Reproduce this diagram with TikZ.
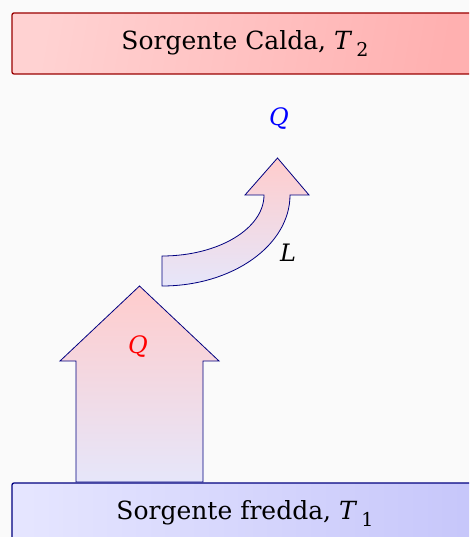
\documentclass[tikz,border=0pt]{standalone}
\usepackage{fontspec}
\setmainfont{DejaVu Serif}
\definecolor{bg}{HTML}{FAFAFA}
\definecolor{hotL}{HTML}{FFD2D2}
\definecolor{hotR}{HTML}{FFB0B0}
\definecolor{hotB}{HTML}{9A0000}
\definecolor{coldL}{HTML}{E6E6FF}
\definecolor{coldR}{HTML}{C6C6FA}
\definecolor{navyc}{HTML}{000080}
\definecolor{pinkt}{HTML}{FFCCCC}
\definecolor{lavb}{HTML}{E6E6FA}
\newcommand{\Tsub}[1]{\textit{T}\,\raisebox{-0.28em}{\fontsize{19}{22}\selectfont #1}}
\tikzset{
  source/.style={rectangle, rounded corners=2pt, line width=1.3pt, minimum width=466pt, minimum height=61pt, inner sep=0pt, font=\fontsize{25}{30}\selectfont},
  hotbox/.style={source, draw=hotB, left color=hotL, right color=hotR, shading angle=80},
  coldbox/.style={source, draw=navyc, left color=coldL, right color=coldR},
  flow/.style={draw=navyc, line width=0.8pt, top color=pinkt, bottom color=lavb},
  lbl/.style={inner sep=0pt, font=\fontsize{24}{28}\selectfont\itshape}
}
\begin{document}
\begin{tikzpicture}[x=1pt, y=-1pt]
\useasboundingbox (0,0) rectangle (469,537);
\fill[bg] (0,0) rectangle (469,537);
\begin{scope}
\clip (0,0) rectangle (469,537);
\node[hotbox] (hot) at (245,43.5) {Sorgente Calda, \Tsub{2}};
\node[coldbox] (cold) at (245,513.5) {Sorgente fredda, \Tsub{1}};
\end{scope}
% big arrow
\path[flow] (76,482) -- (76,361) -- (60,361) -- (139.5,286) -- (219,361) -- (203,361) -- (203,482) -- cycle;
% curved arrow
\path[flow] (162,286) .. controls (232.7,286) and (290,245.2) .. (290,195)
  -- (309,195) -- (277.5,158) -- (245,195) -- (264,195)
  .. controls (264,228.7) and (218.3,256) .. (162,256) -- cycle;
\node[lbl, text=red] (qin) at (138,347) {Q};
\node[lbl, text=blue] (qout) at (279,119) {Q};
\node[lbl] (work) at (288,253) {L};
\end{tikzpicture}
\end{document}
